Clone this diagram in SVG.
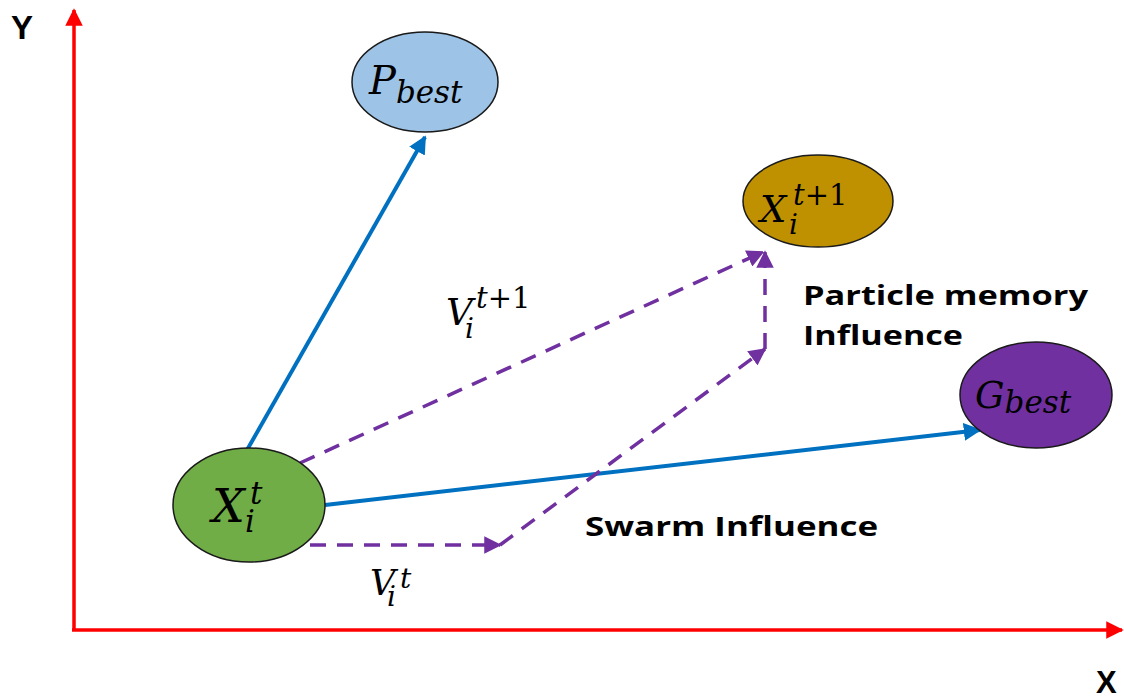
<svg xmlns="http://www.w3.org/2000/svg" width="1124" height="698" viewBox="0 0 1124 698">
<style>
.node{stroke:#1a1a1a;stroke-width:1.5}
.math{font-family:"DejaVu Serif","Liberation Serif",serif;font-style:italic;fill:#000}
.up{font-style:normal}
.lbl{font-family:"Open Sans","Liberation Sans",sans-serif;font-weight:700;fill:#000;font-size:26px}
.axis{stroke:#ff0000;stroke-width:3.5;fill:none}
.blue{stroke:#0070c0;stroke-width:4;fill:none}
.dash{stroke:#7030a0;stroke-width:3.5;fill:none;stroke-dasharray:16 11}
</style>
<defs>
<marker id="ar" viewBox="0 0 10 10" refX="9" refY="5" markerWidth="5" markerHeight="5" orient="auto" markerUnits="strokeWidth"><path d="M0,0L10,5L0,10z" fill="#ff0000"/></marker>
<marker id="ab" viewBox="0 0 10 10" refX="9" refY="5" markerWidth="4.5" markerHeight="4.5" orient="auto" markerUnits="strokeWidth"><path d="M0,0L10,5L0,10z" fill="#0070c0"/></marker>
<marker id="ap" viewBox="0 0 10 10" refX="9" refY="5" markerWidth="5" markerHeight="5" orient="auto" markerUnits="strokeWidth"><path d="M0,0L10,5L0,10z" fill="#7030a0"/></marker>
</defs>
<g id="axes">
<line class="axis" x1="74" y1="631" x2="74" y2="10" marker-end="url(#ar)"/>
<line class="axis" x1="72" y1="630" x2="1122" y2="630" marker-end="url(#ar)"/>
<text x="11" y="39" font-family="Liberation Sans, sans-serif" font-weight="700" font-size="33">Y</text>
<text x="1096" y="693" font-family="Liberation Sans, sans-serif" font-weight="700" font-size="31">X</text>
</g>
<g id="connectors">
<line class="blue" x1="247" y1="450" x2="425" y2="137" marker-end="url(#ab)"/>
<line class="blue" x1="325" y1="505" x2="980" y2="430" marker-end="url(#ab)"/>
<line class="dash" x1="300" y1="463" x2="763" y2="252" marker-end="url(#ap)"/>
<line class="dash" x1="310" y1="545" x2="500" y2="545" marker-end="url(#ap)"/>
<line class="dash" x1="500" y1="545" x2="765" y2="349" marker-end="url(#ap)"/>
<line class="dash" x1="765" y1="349" x2="765" y2="252" marker-end="url(#ap)"/>
</g>
<g id="pbest">
<ellipse class="node" cx="425" cy="82" rx="73" ry="50" fill="#9dc3e6"/>
<text class="math" x="369" y="94" font-size="40">P<tspan font-size="31" dy="9">best</tspan></text>
</g>
<g id="xnext">
<ellipse class="node" cx="818" cy="201" rx="75" ry="46" fill="#bf9000"/>
<text class="math" x="760" y="222" font-size="37">X<tspan x="789" y="234" font-size="28">i</tspan><tspan x="793" y="205" font-size="29">t</tspan><tspan class="up" font-size="29">+1</tspan></text>
</g>
<g id="gbest">
<ellipse class="node" cx="1036" cy="395" rx="76" ry="53" fill="#7030a0"/>
<text class="math" x="975" y="408" font-size="37">G<tspan font-size="31" dy="5">best</tspan></text>
</g>
<g id="xt">
<ellipse class="node" cx="249" cy="505" rx="76" ry="57" fill="#70ad47"/>
<text class="math" x="212" y="522" font-size="46">X<tspan x="245" y="532" font-size="31">i</tspan><tspan x="250" y="504" font-size="31">t</tspan></text>
</g>
<g id="labels">
<text class="math" x="446" y="325" font-size="37">V<tspan x="465" y="338" font-size="28">i</tspan><tspan x="476" y="308" font-size="29">t</tspan><tspan class="up" font-size="29">+1</tspan></text>
<text class="math" x="370" y="595" font-size="35">V<tspan x="387" y="606" font-size="28">i</tspan><tspan x="400" y="588" font-size="28">t</tspan></text>
<text class="lbl" x="803" y="305" textLength="285" lengthAdjust="spacingAndGlyphs">Particle memory</text>
<text class="lbl" x="803" y="345" textLength="160" lengthAdjust="spacingAndGlyphs">Influence</text>
<text class="lbl" x="585" y="536" textLength="293" lengthAdjust="spacingAndGlyphs">Swarm Influence</text>
</g>
</svg>
